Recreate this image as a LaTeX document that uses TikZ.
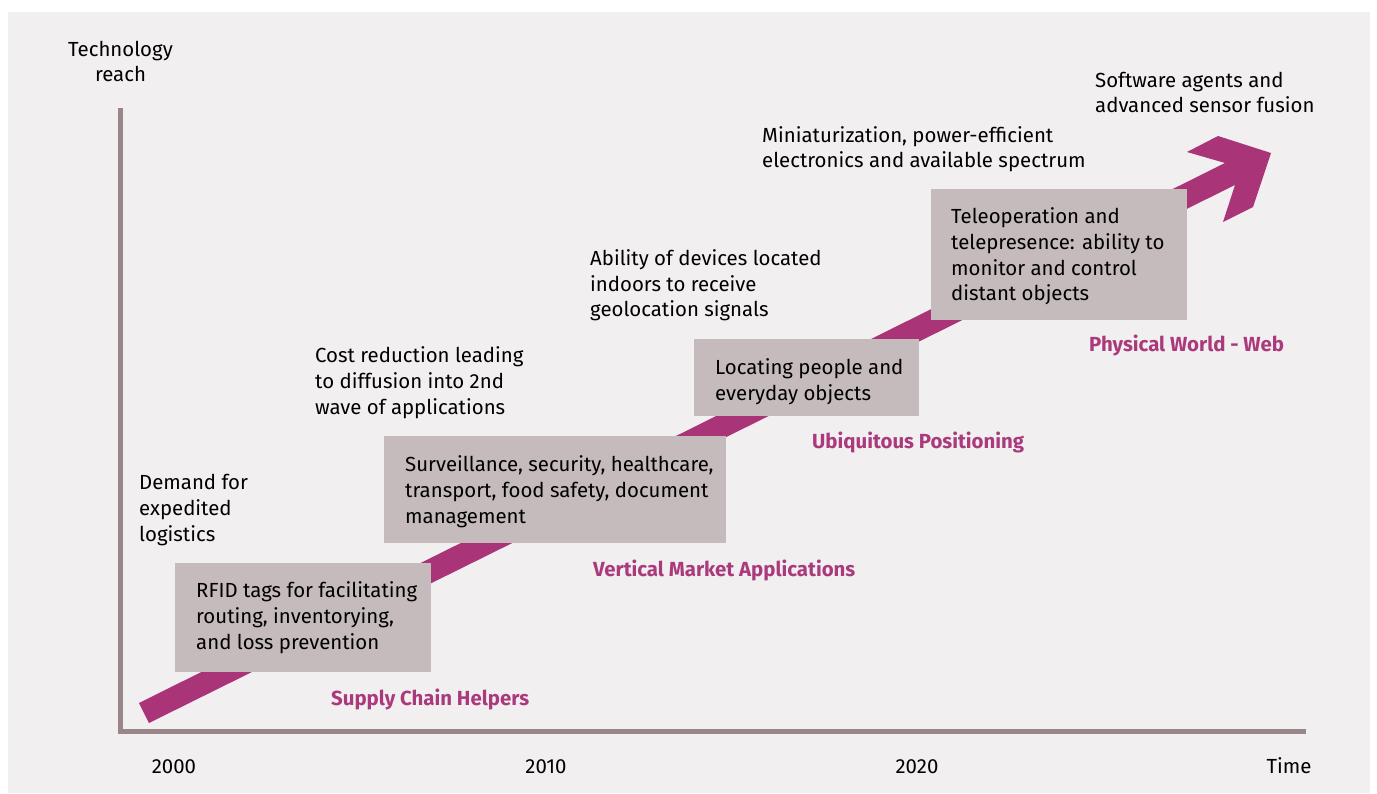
\documentclass[tikz,border=0pt]{standalone}
\usepackage{fontspec}
\setmainfont{Fira Sans}
\definecolor{panel}{HTML}{F2EFF0}
\definecolor{boxfill}{HTML}{C5BBBC}
\definecolor{axiscol}{HTML}{9A8689}
\definecolor{magentac}{HTML}{AA3478}
\definecolor{labelc}{HTML}{AA3A7C}
\begin{document}
\begin{tikzpicture}[x=1pt,y=-1pt,
  txt/.style={inner sep=0pt,anchor=base west,align=left,font=\fontsize{20.4}{25.8}\selectfont,text=black},
  ctxt/.style={inner sep=0pt,anchor=base,align=center,font=\fontsize{20.4}{25.8}\selectfont,text=black},
  stage/.style={inner sep=0pt,anchor=base west,font=\fontsize{20.4}{25.8}\selectfont\bfseries,text=labelc},
  greybox/.style={fill=boxfill,draw=none},
  axisline/.style={draw=axiscol,line width=5pt}]
\useasboundingbox (0,0) rectangle (1377,794);
\fill[white] (0,0) rectangle (1377,794);
\fill[panel] (8,12) rectangle (1370,793);
% axes
\coordinate (ytop) at (120,108);
\coordinate (origin) at (120,731.5);
\coordinate (xend) at (1306,731.5);
\draw[axisline,line cap=butt] (ytop) -- (origin) -- (xend);
% big arrow
\fill[magentac] (139,703) -- (1225,163) -- (1187,152) -- (1218,136) -- (1271,153)
  -- (1253,207) -- (1223,222) -- (1235,185) -- (149,723) -- cycle;
% boxes
\fill[greybox] (175,563) rectangle (431,672);
\fill[greybox] (384,436) rectangle (726,543);
\fill[greybox] (694,339) rectangle (919,416);
\fill[greybox] (931,189) rectangle (1187,320);
% box texts (base = baseline of last line)
\node[txt] (b1) at (196,649) {RFID tags for facilitating\\routing, inventorying,\\and loss prevention};
\node[txt] (b2) at (405,523) {Surveillance, security, healthcare,\\transport, food safety, document\\management};
\node[txt] (b3) at (715,400) {Locating people and\\everyday objects};
\node[txt] (b4) at (951,301) {Teleoperation and\\telepresence: ability to\\monitor and control\\distant objects};
% drivers
\node[txt] (d1) at (139,541) {Demand for\\expedited\\logistics};
\node[txt] (d2) at (315,414) {Cost reduction leading\\to diffusion into 2nd\\wave of applications};
\node[txt] (d3) at (590,317) {Ability of devices located\\indoors to receive\\geolocation signals};
\node[txt] (d4) at (762,168) {Miniaturization, power-efficient\\electronics and available spectrum};
\node[txt] (d5) at (1095,113) {Software agents and\\advanced sensor fusion};
% stage labels
\node[stage] (s1) at (331,705) {Supply Chain Helpers};
\node[stage] (s2) at (593,576) {Vertical Market Applications};
\node[stage] (s3) at (812,448) {Ubiquitous Positioning};
\node[stage] (s4) at (1089,352) {Physical World - Web};
% axis labels
\node[ctxt] (ylab) at (120.5,82) {Technology\\reach};
\node[ctxt] (y2000) at (174,773) {2000};
\node[ctxt] (y2010) at (546,773) {2010};
\node[ctxt] (y2020) at (917,773) {2020};
\node[ctxt] (time) at (1289,773) {Time};
\end{tikzpicture}
\end{document}
